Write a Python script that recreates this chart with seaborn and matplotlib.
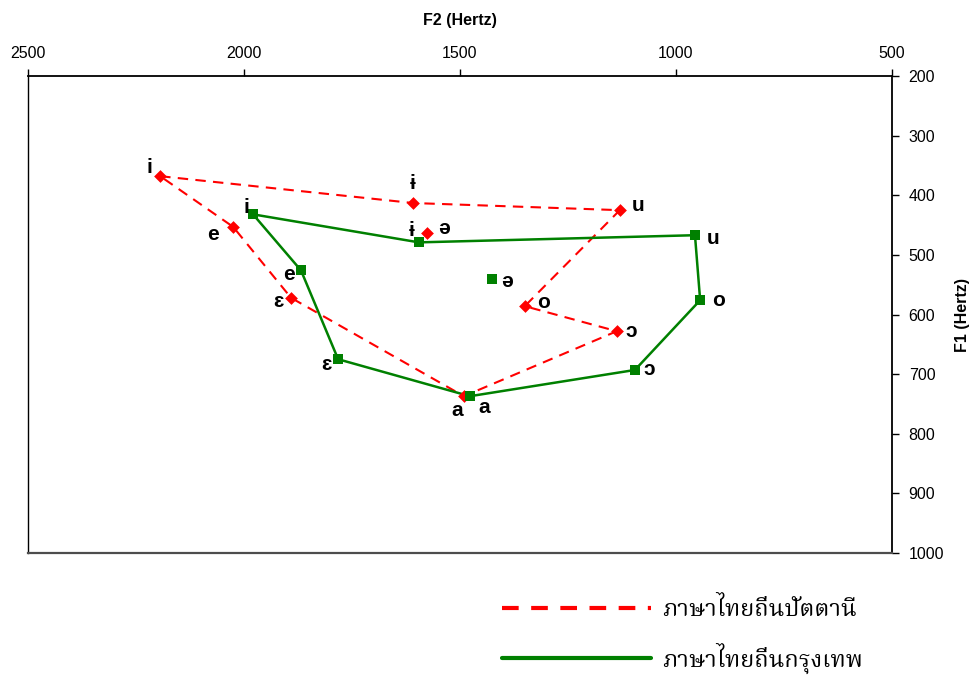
import matplotlib
matplotlib.use("Agg")
import matplotlib.pyplot as plt
from matplotlib.lines import Line2D
import seaborn as sns
import pandas as pd

# Vowel formant data (Hz)
vowels = ["i", "ɨ", "u", "e", "ə", "o", "ɛ", "ɔ", "a"]
pattani_f1 = [368, 413, 425, 453, 463, 586, 572, 628, 737]
pattani_f2 = [2194, 1609, 1130, 2025, 1576, 1350, 1891, 1137, 1491]
bangkok_f1 = [432, 479, 467, 526, 541, 576, 675, 693, 737]
bangkok_f2 = [1979, 1595, 956, 1868, 1426, 944, 1782, 1095, 1477]

# Order in which the vowel space outline is traced (ə is left unconnected)
outline = ["i", "ɨ", "u", "o", "ɔ", "a", "ɛ", "e", "i"]

series_names = ["ภาษาไทยถิ่นปัตตานี", "ภาษาไทยถิ่นกรุงเทพ"]

x_ticks = [2500, 2000, 1500, 1000, 500]
y_ticks = [200, 300, 400, 500, 600, 700, 800, 900, 1000]

sns.set_theme(style="white")
plt.rcParams["font.family"] = ["Liberation Sans", "DejaVu Sans"]
plt.rcParams["text.color"] = "black"
plt.rcParams["axes.labelcolor"] = "black"
thai_fonts = ["Noto Serif Thai", "Noto Sans Thai", "Norasi", "Loma", "Garuda",
              "Tlwg Typo", "Kinnari", "Waree", "DejaVu Serif", "DejaVu Sans"]

df = pd.DataFrame({
    "vowel": vowels * 2,
    "F1": pattani_f1 + bangkok_f1,
    "F2": pattani_f2 + bangkok_f2,
    "dialect": [series_names[0]] * len(vowels) + [series_names[1]] * len(vowels),
})

fig = plt.figure(figsize=(9.71, 6.75), dpi=100)
ax = fig.add_axes([0.0288, 0.1807, 0.8898, 0.7067])

styles = {
    series_names[0]: dict(color="#ff0000", ls=(0, (5, 3.5)), lw=1.5, marker="D", ms=6.5),
    series_names[1]: dict(color="#008000", ls="-", lw=1.8, marker="s", ms=7.5),
}

for name in series_names:
    sub = df[df["dialect"] == name].set_index("vowel")
    path = sub.loc[outline].reset_index()
    st = styles[name]
    sns.lineplot(data=path, x="F2", y="F1", sort=False, estimator=None, ax=ax,
                 color=st["color"], linestyle=st["ls"], linewidth=st["lw"], legend=False)
    sns.scatterplot(data=sub.reset_index(), x="F2", y="F1", ax=ax, color=st["color"],
                    marker=st["marker"], s=st["ms"] ** 2, edgecolor=st["color"],
                    linewidth=0, legend=False, zorder=5)

# Label offsets (pixels) for each vowel symbol
label_offsets = {
    series_names[0]: {"i": (-11, 9), "ɨ": (0, 20), "u": (18, 5), "e": (-20, -8),
                      "ə": (17, 4), "o": (19, 4), "ɛ": (-13, -4), "ɔ": (14, 0), "a": (-7, -14)},
    series_names[1]: {"i": (-7, 7), "ɨ": (-7, 12), "u": (18, -3), "e": (-12, -4),
                      "ə": (15, -2), "o": (18, 0), "ɛ": (-12, -5), "ɔ": (14, 0), "a": (14, -11)},
}
for name in series_names:
    sub = df[df["dialect"] == name]
    for _, r in sub.iterrows():
        dx, dy = label_offsets[name][r["vowel"]]
        ax.annotate(r["vowel"], (r["F2"], r["F1"]), xytext=(dx, dy),
                    textcoords="offset pixels", ha="center", va="center",
                    fontsize=15, fontweight="bold", color="black", zorder=6)

ax.set_xlim(2500, 500)
ax.set_ylim(1000, 200)
ax.set_xticks(x_ticks)
ax.set_yticks(y_ticks)
ax.xaxis.tick_top()
ax.xaxis.set_label_position("top")
ax.yaxis.tick_right()
ax.yaxis.set_label_position("right")
ax.tick_params(axis="x", direction="out", length=5, width=1, labelsize=11.5, pad=6,
               colors="black")
ax.tick_params(axis="y", direction="out", length=5, width=1, labelsize=11.5, pad=7,
               colors="black")
ax.set_xlabel("F2 (Hertz)", fontsize=11.5, fontweight="bold", labelpad=15, color="black")
ax.set_ylabel("F1 (Hertz)", fontsize=11.5, fontweight="bold", labelpad=8, color="black")

for side in ["top", "right"]:
    ax.spines[side].set_linewidth(1.3)
    ax.spines[side].set_color("black")
ax.spines["left"].set_linewidth(1.0)
ax.spines["left"].set_color("black")
ax.spines["bottom"].set_linewidth(1.6)
ax.spines["bottom"].set_color("#4d4d4d")

handles = [
    Line2D([], [], color="#ff0000", ls=(0, (4, 3)), lw=3),
    Line2D([], [], color="#008000", ls="-", lw=3),
]
leg = fig.legend(handles, series_names, loc="upper left", bbox_to_anchor=(0.495, 0.145),
                 frameon=False, handlelength=6.3, handletextpad=0.5, labelspacing=0.85,
                 prop={"family": thai_fonts, "size": 17})

fig.savefig("out.png", dpi=100)
